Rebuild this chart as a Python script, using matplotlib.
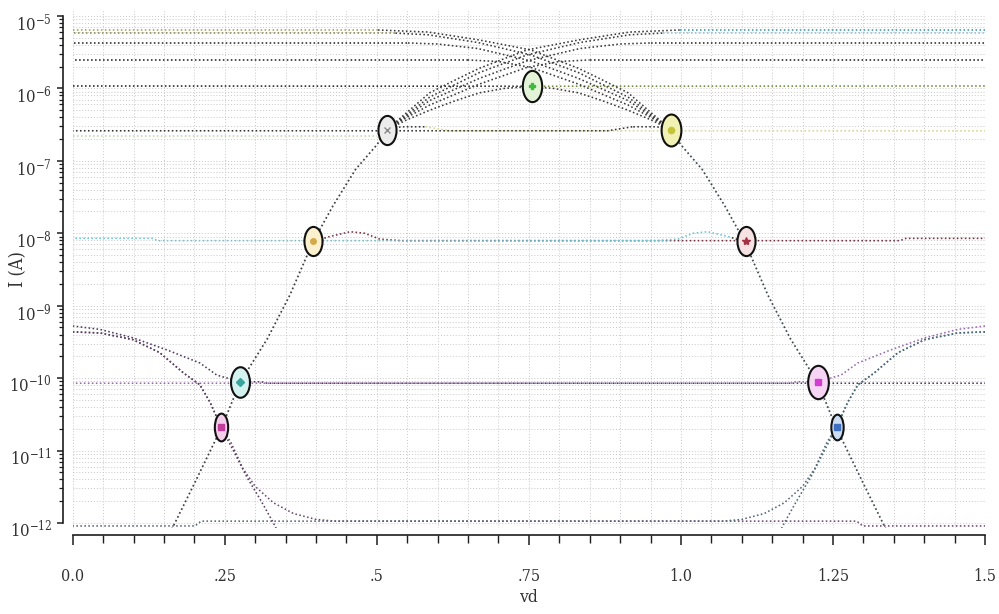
import numpy as np
import matplotlib
matplotlib.use("Agg")
import matplotlib.pyplot as plt
from matplotlib.path import Path
from matplotlib.transforms import Affine2D, ScaledTranslation
from matplotlib.ticker import FixedLocator, FixedFormatter

plt.rcParams.update({
    "font.family": ["DejaVu Serif"],
    "font.stretch": "condensed",
    "mathtext.fontset": "custom",
    "mathtext.rm": "DejaVu Serif:stretch=condensed",
    "mathtext.default": "regular",
})

VD_MAX = 1.5

# ---------------- data (vd in V, currents in A) ----------------
# common steep rise shared by all upper branches
vd_rise = [0.150, 0.168, 0.200, 0.245, 0.275, 0.320, 0.357, 0.395, 0.428, 0.465, 0.500, 0.517]
i_rise = [5.0e-13, 1.0e-12, 3.5e-12, 2.1e-11, 8.7e-11, 3.5e-10, 1.4e-9, 7.6e-9, 2.4e-8, 7.6e-8, 1.66e-7, 2.7e-7]

# saturating upper branches (continuation after the common rise)
vd_b1 = [0.550, 0.587, 0.630, 0.669, 0.747, 0.834, 0.916, 0.998, 1.500]
i_b1 = [4.7e-7, 8.7e-7, 1.32e-6, 1.9e-6, 3.4e-6, 4.7e-6, 6.0e-6, 6.4e-6, 6.4e-6]
vd_b2 = [0.550, 0.587, 0.669, 0.747, 0.834, 0.916, 0.970, 1.500]
i_b2 = [4.4e-7, 7.6e-7, 1.66e-6, 2.9e-6, 4.3e-6, 5.5e-6, 5.8e-6, 5.8e-6]
vd_b3 = [0.550, 0.587, 0.669, 0.747, 0.834, 0.900, 0.950, 1.500]
i_b3 = [4.2e-7, 6.8e-7, 1.38e-6, 2.4e-6, 3.55e-6, 4.1e-6, 4.24e-6, 4.24e-6]
vd_b4 = [0.550, 0.587, 0.669, 0.747, 0.800, 0.850, 1.500]
i_b4 = [4.0e-7, 5.9e-7, 1.15e-6, 1.95e-6, 2.35e-6, 2.47e-6, 2.47e-6]
vd_b5 = [0.550, 0.587, 0.630, 0.669, 0.710, 0.755, 1.500]
i_b5 = [3.7e-7, 5.0e-7, 6.8e-7, 8.7e-7, 1.0e-6, 1.07e-6, 1.08e-6]
vd_b6 = [0.540, 0.580, 0.620, 1.500]
i_b6 = [2.95e-7, 2.95e-7, 2.6e-7, 2.6e-7]
vd_b7 = [0.420, 0.456, 0.480, 0.505, 0.540, 1.360, 1.370, 1.500]
i_b7 = [8.9e-9, 1.05e-8, 1.0e-8, 8.3e-9, 7.9e-9, 7.9e-9, 8.5e-9, 8.5e-9]

# low-current branches
vd_a = [0.000, 0.045, 0.099, 0.155, 0.209, 0.237, 0.275, 0.310, 0.320, 1.500]
i_a = [5.25e-10, 4.7e-10, 3.6e-10, 2.45e-10, 1.62e-10, 1.1e-10, 8.9e-11, 8.9e-11, 8.5e-11, 8.5e-11]
vd_b = [0.000, 0.045, 0.099, 0.143, 0.182, 0.209, 0.226, 0.244, 0.264, 0.287, 0.310, 0.330, 0.345]
i_b = [4.35e-10, 4.2e-10, 3.4e-10, 2.25e-10, 1.18e-10, 8.1e-11, 4.6e-11, 2.1e-11,
       1.0e-11, 4.2e-12, 2.0e-12, 1.0e-12, 5.6e-13]
vd_c = [0.000, 0.045, 0.099, 0.143, 0.182, 0.209, 0.226, 0.244, 0.260, 0.280, 0.300, 0.330,
        0.363, 0.400, 0.430, 1.289, 1.299, 1.500]
i_c = [4.35e-10, 4.2e-10, 3.4e-10, 2.25e-10, 1.18e-10, 8.1e-11, 4.6e-11, 2.1e-11, 1.3e-11,
       5.6e-12, 3.2e-12, 1.9e-12, 1.35e-12, 1.12e-12, 1.06e-12, 1.06e-12, 9.1e-13, 9.1e-13]
vd_g = [0.000, 0.500]
i_g = [2.2e-7, 2.2e-7]

# operating points (crossings)
vd_op = [0.244, 0.275, 0.395, 0.517, 0.755, 0.984, 1.107, 1.225, 1.257]
i_op = [2.1e-11, 8.9e-11, 7.7e-9, 2.65e-7, 1.08e-6, 2.65e-7, 7.7e-9, 8.9e-11, 2.1e-11]

x_ticks = [0.0, 0.25, 0.5, 0.75, 1.0, 1.25, 1.5]
x_tick_labels = ["0.0", ".25", ".5", ".75", "1.0", "1.25", "1.5"]
decades = [-12, -11, -10, -9, -8, -7, -6, -5]

# ---------------- figure ----------------
fig = plt.figure(figsize=(9.99, 6.14), dpi=100)
ax = fig.add_axes([0.0728, 0.1401, 0.9132, 0.8437])
ax.set_yscale("log")
ax.set_xlim(0, VD_MAX)
ax.set_ylim(10 ** -12.069, 10 ** -4.917)

DOT = (0, (1, 1.5))
LW = 1.15
BUNDLE = "#3a3a3a"


def trace(x, y, color, z=3, lw=LW):
    ax.plot(x, y, color=color, lw=lw, ls=DOT, zorder=z)


def mirrored(x):
    return VD_MAX - np.asarray(x, dtype=float)


# upper branches: rising curve and its falling mirror about vd = 0.75;
# each branch leaves the common rise at index n-1, its transition part is dark
# and the saturated tail carries the branch colour
upper = [
    (vd_b1, i_b1, 12, -2, "#3c98aa", "#a3a35e"),
    (vd_b2, i_b2, 12, -2, "#8cc2e2", "#8a8a55"),
    (vd_b3, i_b3, 12, -2, "#2b2b2b", "#2b2b2b"),
    (vd_b4, i_b4, 12, -2, "#262626", "#262626"),
    (vd_b5, i_b5, 12, -2, "#6c8c3c", "#262626"),
    (vd_b6, i_b6, 12, -3, "#d6d690", "#333333"),
    (vd_b7, i_b7, 8, 0, "#7a3344", "#6cc6d6"),
]
for vb, ib, n, k, c_rise, c_fall in upper:
    x = np.concatenate([vd_rise[n - 1:n], vb])
    y = np.concatenate([i_rise[n - 1:n], ib])
    cut = 1 + (len(vb) + k if k < 0 else k)
    for xx, col_tail in ((x, c_rise), (mirrored(x), c_fall)):
        trace(xx[:cut + 1], y[:cut + 1], BUNDLE, z=3.2)
        trace(xx[cut:], y[cut:], col_tail, z=3)

# common steep rise and its falling mirror
trace(vd_rise, i_rise, "#404040", z=3.5, lw=1.25)
trace(mirrored(vd_rise), i_rise, "#3c4a50", z=3.5, lw=1.25)

trace(vd_g, i_g, "#b9dca4", z=2.5)

# low-current branches and their mirrors
trace(vd_a, i_a, "#503a62")
trace(mirrored(vd_a), i_a, "#9a6aae")
trace(vd_c, i_c, "#6e4a74")
trace(mirrored(vd_c), i_c, "#566878")
trace(vd_b, i_b, "#5a4060")
trace(mirrored(vd_b), i_b, "#4a6a78")

# operating-point markers
ell_std = Path.unit_circle().transformed(Affine2D().scale(0.62, 1.0))
ell_thin = Path.unit_circle().transformed(Affine2D().scale(0.48, 1.0))
op_style = [
    (ell_thin, 20, "#f3cdea", "#c23d9c", "s", 4.5),
    (ell_std, 22, "#d4f2ef", "#3aa39c", "D", 4.0),
    (ell_std, 21, "#fbf1cf", "#d4a94a", "o", 4.0),
    (ell_std, 21, "#ececec", "#8a8a8a", "x", 4.5),
    (ell_std, 22.5, "#e2f3d8", "#3dbb3d", "P", 5.0),
    (ell_std, 23, "#f1f1b4", "#c4c43c", "o", 4.5),
    (ell_std, 21, "#f6e2e2", "#a33244", "*", 6.0),
    (ell_std, 24, "#f6d4f4", "#d23fd0", "s", 5.0),
    (ell_thin, 18.5, "#ccdcf2", "#3f6fc0", "s", 4.0),
]
for v, i, (mk, ms, fill, inner, imk, ims) in zip(vd_op, i_op, op_style):
    ax.plot([v], [i], ls="none", marker=mk, ms=ms, mfc=fill, mec="#111111", mew=1.5,
            zorder=6)
    ax.plot([v], [i], ls="none", marker=imk, ms=ims, color=inner, mec=inner, zorder=7)

# ---------------- axes styling ----------------
ax.xaxis.set_major_locator(FixedLocator(x_ticks))
ax.xaxis.set_major_formatter(FixedFormatter(x_tick_labels))
ax.xaxis.set_minor_locator(FixedLocator(np.arange(0, VD_MAX + 1e-9, 0.05)))

ymaj = [10.0 ** d for d in decades]
ymin = [m * 10.0 ** d for d in decades[:-1] for m in range(2, 10)]
ax.yaxis.set_major_locator(FixedLocator(ymaj))
ax.yaxis.set_minor_locator(FixedLocator(ymin))
ax.yaxis.set_major_formatter(FixedFormatter([r"$10^{%d}$" % d for d in decades]))
ax.yaxis.set_minor_formatter(FixedFormatter([]))

ax.grid(True, which="both", color="#c8c8c8", lw=0.7, ls=(0, (1, 2)), zorder=0)
ax.set_axisbelow(True)

for s in ("top", "right"):
    ax.spines[s].set_visible(False)
ax.spines["left"].set_position(("outward", 7))
ax.spines["bottom"].set_position(("outward", 5))
ax.spines["left"].set_bounds(1e-12, 1e-5)
ax.spines["bottom"].set_bounds(0, VD_MAX)
for s in ("left", "bottom"):
    ax.spines[s].set_linewidth(1.2)
    ax.spines[s].set_color("#1e1e1e")

ax.tick_params(axis="x", which="major", direction="out", length=7.5, width=1.1,
               pad=16, labelsize=11.5, colors="#1e1e1e", labelcolor="#333333")
ax.tick_params(axis="x", which="minor", direction="out", length=6, width=1.0,
               colors="#1e1e1e")
ax.tick_params(axis="y", which="major", direction="out", length=4.5, width=1.1,
               pad=3.5, labelsize=12, colors="#1e1e1e", labelcolor="#333333")
ax.tick_params(axis="y", which="minor", direction="out", length=3.2, width=0.9,
               colors="#1e1e1e")

shift = ScaledTranslation(0, -0.055, fig.dpi_scale_trans)
for lab in ax.get_yticklabels():
    lab.set_transform(lab.get_transform() + shift)

ax.set_xlabel("vd", fontsize=12.5, color="#333333")
ax.xaxis.set_label_coords(0.5, -0.118)
ax.set_ylabel("I (A)", fontsize=13, color="#333333")
ax.yaxis.set_label_coords(-0.05, 0.5)

fig.savefig("out.png", dpi=100)
